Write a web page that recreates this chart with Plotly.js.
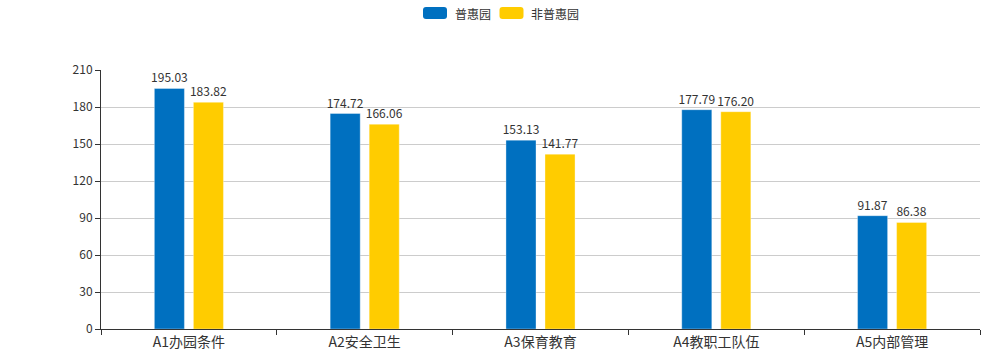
<!DOCTYPE html>
<html><head><meta charset="utf-8">
<script src="https://cdn.plot.ly/plotly-3.0.1.min.js"></script>
<style>html,body{margin:0;padding:0;background:#fff}#c{width:1000px;height:360px}</style>
</head><body><div id="c"></div>
<script>
const categories = ["A1办园条件","A2安全卫生","A3保育教育","A4教职工队伍","A5内部管理"];
const seriesNames = ["普惠园","非普惠园"];
const puhui = [195.03,174.72,153.13,177.79,91.87];
const feipuhui = [183.82,166.06,141.77,176.20,86.38];
const colors = ["#0070C0","#FFCC00"];
const font = '"Microsoft YaHei","Noto Sans CJK SC",sans-serif';
const mk = (name, y, color) => ({
  type:'bar', name, x:categories, y,
  marker:{color, line:{color:'rgba(255,255,255,0.35)', width:1}},
  text:y.map(v=>v.toFixed(2)), textposition:'outside', cliponaxis:false, constraintext:'none',
  textfont:{family:font,size:12,color:'#333'}, hoverinfo:'x+y'
});
// custom legend (rounded swatches) positioned in paper coords
const L=101, R=980, T=70, B=329;
const px = X => (X-L)/(R-L), py = Y => (B-Y)/(B-T);
const rr = 'M -12,-3 Q -12,-6 -9,-6 L 9,-6 Q 12,-6 12,-3 L 12,3 Q 12,6 9,6 L -9,6 Q -12,6 -12,3 Z';
const legendPos = [{sx:435, tx:453},{sx:511.5, tx:529}];
const shapes = legendPos.map((p,i)=>({type:'path',xref:'paper',yref:'paper',xsizemode:'pixel',ysizemode:'pixel',
  xanchor:px(p.sx),yanchor:py(13),path:rr,fillcolor:colors[i],line:{width:0}}));
const annotations = legendPos.map((p,i)=>({xref:'paper',yref:'paper',x:px(p.tx),y:py(13),xanchor:'left',yanchor:'middle',
  text:seriesNames[i],showarrow:false,font:{family:font,size:12,color:'#333'}}));
Plotly.newPlot('c',[mk(seriesNames[0],puhui,colors[0]),mk(seriesNames[1],feipuhui,colors[1])],{
  width:1000,height:360,
  margin:{l:101,r:20,t:70,b:31,autoexpand:false},
  barmode:'group', bargap:0.556, bargroupgap:0.23,
  font:{family:font,size:12,color:'#333'},
  showlegend:false, shapes, annotations,
  xaxis:{showline:true,linecolor:'#333',linewidth:1,ticks:'outside',tickson:'boundaries',ticklen:5,tickcolor:'#333',
    tickfont:{size:14,color:'#333'},showgrid:false},
  yaxis:{range:[0,210],dtick:30,showline:true,linecolor:'#333',ticks:'outside',ticklen:5,tickcolor:'#333',
    gridcolor:'#ccc',zeroline:false,tickfont:{size:12,color:'#333'}},
  plot_bgcolor:'#fff',paper_bgcolor:'#fff'
},{displayModeBar:false});
</script></body></html>
